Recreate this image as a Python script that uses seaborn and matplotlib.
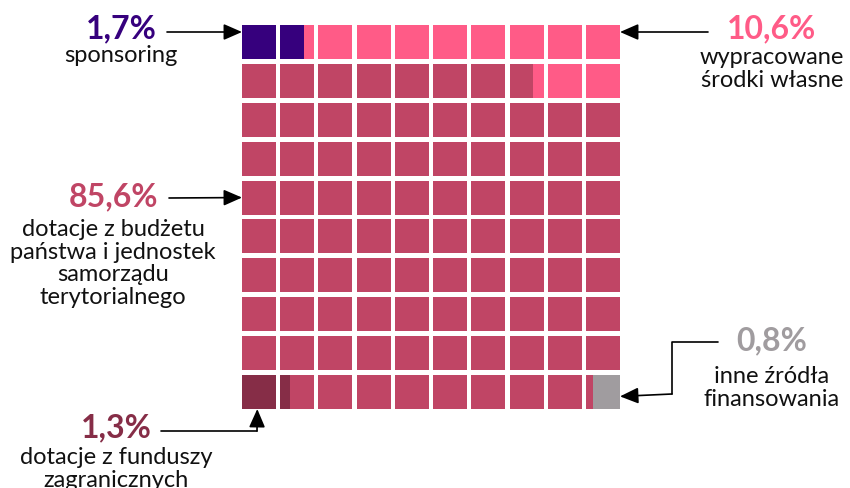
import numpy as np
import matplotlib
matplotlib.use("Agg")
import matplotlib.pyplot as plt
from matplotlib.lines import Line2D
import seaborn as sns

# udziały źródeł finansowania (w %)
labels = ["sponsoring", "wypracowane\nśrodki własne",
          "dotacje z budżetu\npaństwa i jednostek\nsamorządu\nterytorialnego",
          "dotacje z funduszy\nzagranicznych", "inne źródła\nfinansowania"]
pct_labels = ["1,7%", "10,6%", "85,6%", "1,3%", "0,8%"]
shares = [1.7, 10.6, 85.6, 1.3, 0.8]
colors = ["#36007D", "#FF5B87", "#C04565", "#862D47", "#A09C9F"]

sns.set_theme(style="white")
plt.rcParams["font.family"] = ["Lato", "DejaVu Sans"]

W, H = 850, 489
fig = plt.figure(figsize=(W / 100, H / 100), dpi=100)

# siatka 10x10, każda kratka podzielona na 10 części (dokładność 0,1%)
units = [int(round(v * 10)) for v in shares]
grid = np.full((10, 100), 2)
pos = 0
for k in (0, 1):  # od lewego górnego rogu, wężykiem
    for _ in range(units[k]):
        row, off = divmod(pos, 100)
        grid[row, off if row % 2 == 0 else 99 - off] = k
        pos += 1
grid[9, :units[3]] = 3          # od lewego dolnego rogu
grid[9, 100 - units[4]:] = 4    # od prawego dolnego rogu

sw = 34 / 38.2   # szerokość kratki względem odstępu
sh = 34 / 38.9
ax = fig.add_axes([242 / W, 1 - 410 / H, (620 - 242) / W, (410 - 26) / H])
for r in range(10):
    for c in range(10):
        sub = grid[r, c * 10:(c + 1) * 10]
        start = 0
        for i in range(1, 11):
            if i == 10 or sub[i] != sub[start]:
                ax.barh(r, (i - start) * sw / 10, left=c + start * sw / 10,
                        height=sh, align="edge", color=colors[sub[start]],
                        linewidth=0)
                start = i
ax.set_xlim(0, 9 + sw)
ax.set_ylim(9 + sh, 0)
ax.set_axis_off()


def fp(x, y):
    return (x / W, 1 - y / H)


def label(i, x, y_pct, y_txt):
    fig.text(*fp(x, y_pct), pct_labels[i], color=colors[i], fontsize=23,
             fontweight="bold", ha="center", va="center")
    fig.text(*fp(x, y_txt), labels[i], color="#111111", fontsize=17,
             ha="center", va="top", linespacing=1.1)


label(0, 121, 29, 45)
label(1, 772, 29, 47)
label(2, 113, 197, 219)
label(3, 116, 428, 447)
label(4, 772, 341, 366)

arrow = dict(arrowstyle="-|>,head_length=0.8,head_width=0.35",
             mutation_scale=14, color="black", lw=1.2, shrinkA=0, shrinkB=0)
# strzałki do krawędzi siatki
ax.annotate("", xy=(0, 0.18), xytext=fp(167, 33), textcoords="figure fraction",
            arrowprops=arrow)
ax.annotate("", xy=(9 + sw, 0.18), xytext=fp(708, 33), textcoords="figure fraction",
            arrowprops=arrow)
ax.annotate("", xy=(0, 4 + sh / 2), xytext=fp(169, 199), textcoords="figure fraction",
            arrowprops=arrow)
ax.annotate("", xy=(0.4, 9 + sh), xytext=fp(257, 432), textcoords="figure fraction",
            arrowprops=arrow)
ax.annotate("", xy=(9 + sw, 9.55), xytext=fp(672, 395), textcoords="figure fraction",
            arrowprops=arrow)
for xs, ys in [([161, 257], [432, 432]), ([718, 672, 672], [343, 343, 395])]:
    fig.add_artist(Line2D([x / W for x in xs], [1 - y / H for y in ys],
                          transform=fig.transFigure, color="black", lw=1.2))

fig.savefig("out.png", dpi=100)
